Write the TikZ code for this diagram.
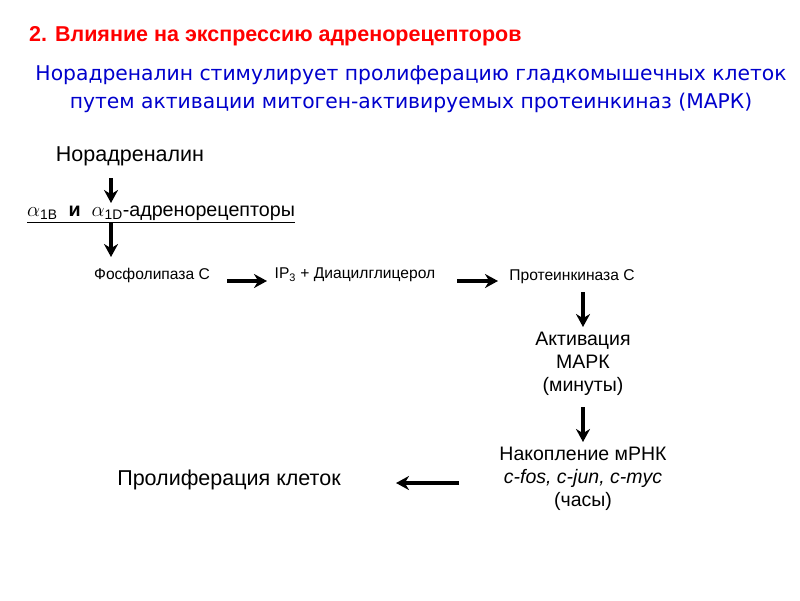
\documentclass[tikz,border=0pt]{standalone}
\usepackage{fontspec}
\setmainfont{Liberation Sans}
\newfontfamily\titlefont{DejaVu Sans}
\usetikzlibrary{arrows.meta}
\begin{document}
\begin{tikzpicture}[x=1pt,y=-1pt,
  arr/.style={line width=3.2pt,-{Stealth[length=13pt,width=14pt]}},
  sm/.style={font=\fontsize{15.6}{18}\selectfont,inner sep=0pt},
  md/.style={font=\fontsize{19.5}{23}\selectfont,align=center,inner sep=0pt},
  lg/.style={font=\fontsize{21.5}{24}\selectfont,inner sep=0pt}]
\useasboundingbox (0,0) rectangle (800,600);
\node[anchor=west,inner sep=0pt,text=red,font=\bfseries\fontsize{21.5}{24}\selectfont] (h) at (29,36) {2. Влияние на экспрессию адренорецепторов};
\node[align=center,inner sep=0pt,text={rgb,255:red,0;green,0;blue,204},font=\titlefont\fontsize{20.3}{28}\selectfont] (t) at (411,89) {Норадреналин стимулирует пролиферацию гладкомышечных клеток\\путем активации митоген-активируемых протеинкиназ (МАРК)};
\node[lg] (na) at (130,156) {Норадреналин};
\node[anchor=west,inner sep=0pt,font=\fontsize{19.7}{22}\selectfont] (ar) at (27,214) {\underline{$\alpha$\textsubscript{1B}\ \ \textbf{и}\ \ $\alpha$\textsubscript{1D}-адренорецепторы}};
\node[sm] (pl) at (152,275) {Фосфолипаза С};
\node[sm] (ip) at (355,275) {IP\textsubscript{3} + Диацилглицерол};
\node[sm] (pk) at (572,277) {Протеинкиназа С};
\node[md] (mk) at (583,364) {Активация\\МАРК\\(минуты)};
\node[md] (rn) at (583,479) {Накопление мРНК\\\textit{c-fos, c-jun, c-myc}\\(часы)};
\node[lg] (pr) at (229,480) {Пролиферация клеток};
\coordinate (a1) at (111,178); \coordinate (a2) at (111,203);
\coordinate (b1) at (111,222); \coordinate (b2) at (111,257);
\draw[arr] (a1) -- (a2);
\draw[arr] (b1) -- (b2);
\draw[arr] (227,281) -- (267,281);
\draw[arr] (457,281) -- (498,281);
\draw[arr] (583,292) -- (583,327);
\draw[arr] (583,407) -- (583,442);
\draw[arr] (459,483) -- (396,483);
\end{tikzpicture}
\end{document}
